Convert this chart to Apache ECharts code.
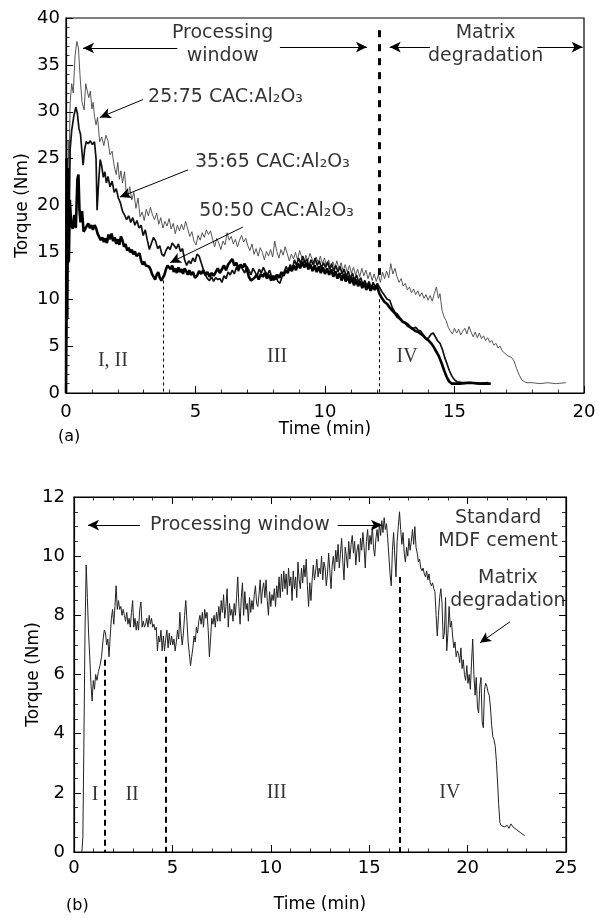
<!DOCTYPE html>
<html><head><meta charset="utf-8">
<script src="https://cdn.jsdelivr.net/npm/echarts@6/dist/echarts.min.js"></script>
<style>html,body{margin:0;padding:0;background:#fff}#c{width:599px;height:918px}</style>
</head><body><div id="c"></div>
<script>
// ---------- DATA (a): torque (Nm) vs time (min) ----------
const xTicksA = [0, 5, 10, 15, 20];
const yTicksA = [0, 5, 10, 15, 20, 25, 30, 35, 40];
const s25_75 = [[0,0],[0.05,12],[0.08,27],[0.12,24],[0.16,31],[0.22,33],[0.28,32],[0.35,36],[0.42,37.5],[0.48,36.8],[0.55,33.5],[0.62,31],[0.70,30.2],[0.76,33],[0.82,32.8],[0.88,31.5],[0.94,32.2],[1.00,30.3],[1.05,31],[1.10,29.5],[1.16,28.6],[1.22,29.4],[1.30,26.8],[1.38,27.3],[1.46,26.4],[1.54,27.5],[1.62,26.9],[1.70,25.4],[1.78,25.8],[1.86,24.2],[1.94,23.3],[2.00,24.6],[2.06,22.8],[2.12,23.7],[2.18,22.4],[2.26,23.6],[2.32,21.5],[2.40,21.0],[2.46,22.0],[2.54,20.6],[2.62,21.4],[2.70,19.7],[2.78,20.8],[2.86,18.8],[2.94,19.3],[3.02,18.4],[3.10,19.6],[3.18,18.9],[3.26,19.8],[3.34,19.0],[3.42,18.5],[3.50,19.2],[3.58,18.0],[3.66,18.7],[3.74,17.6],[3.82,18.3],[3.90,17.8],[3.98,18.6],[4.06,17.5],[4.14,18.1],[4.22,17.0],[4.30,17.9],[4.38,17.3],[4.46,18.0],[4.54,17.4],[4.62,18.3],[4.70,17.5],[4.78,16.7],[4.86,17.2],[4.94,16.2],[5.02,15.8],[5.10,16.8],[5.18,16.3],[5.26,17.1],[5.34,16.6],[5.42,17.4],[5.50,16.9],[5.58,17.3],[5.66,16.4],[5.74,15.6],[5.82,16.5],[5.90,16.0],[5.98,15.3],[6.06,16.2],[6.14,15.8],[6.22,17.1],[6.30,16.3],[6.38,16.7],[6.46,15.9],[6.54,16.4],[6.62,15.6],[6.70,16.3],[6.78,16.8],[6.86,16.1],[6.94,16.5],[7.02,15.7],[7.10,15.2],[7.18,15.9],[7.26,14.8],[7.34,15.4],[7.42,14.6],[7.50,15.5],[7.58,15.0],[7.66,14.2],[7.74,15.1],[7.82,14.6],[7.90,15.3],[7.98,14.5],[8.06,16.2],[8.14,15.1],[8.22,14.4],[8.30,15.3],[8.38,14.7],[8.46,15.6],[8.54,14.9],[8.62,14.1],[8.70,14.8],[8.78,14.3],[8.86,15.0],[8.94,14.2],[9.02,15.2],[9.10,14.5],[9.18,13.8],[9.26,14.7],[9.34,14.1],[9.42,14.9],[9.50,14.3],[9.58,13.6],[9.66,14.5],[9.74,13.9],[9.82,14.6],[9.90,13.8],[9.98,14.4],[10.06,13.5],[10.14,14.2],[10.22,13.3],[10.30,14.0],[10.38,13.4],[10.46,14.1],[10.54,13.2],[10.62,13.9],[10.70,13.0],[10.78,13.7],[10.86,12.9],[10.94,13.6],[11.02,12.8],[11.10,13.4],[11.18,12.6],[11.26,13.2],[11.34,12.4],[11.42,13.3],[11.50,12.5],[11.58,13.1],[11.66,12.2],[11.74,12.9],[11.82,12.0],[11.90,12.7],[11.98,11.9],[12.06,12.6],[12.14,11.8],[12.22,12.9],[12.30,12.2],[12.38,13.0],[12.46,12.3],[12.54,13.8],[12.62,12.7],[12.70,13.3],[12.78,12.4],[12.86,11.8],[12.94,12.2],[13.02,11.4],[13.10,11.7],[13.18,11.0],[13.26,11.3],[13.34,10.7],[13.42,11.1],[13.50,10.5],[13.58,10.9],[13.66,10.3],[13.74,10.7],[13.82,10.1],[13.90,10.5],[13.98,9.9],[14.06,10.4],[14.14,9.8],[14.22,10.6],[14.30,11.3],[14.38,10.1],[14.44,10.6],[14.52,8.8],[14.60,8.1],[14.68,7.7],[14.76,7.0],[14.84,6.6],[14.92,6.3],[15.00,6.9],[15.08,6.4],[15.16,6.8],[15.24,6.2],[15.32,6.6],[15.40,6.9],[15.48,6.3],[15.56,7.1],[15.64,6.5],[15.72,6.0],[15.80,6.5],[15.88,5.9],[15.96,6.4],[16.04,5.8],[16.12,6.1],[16.20,5.6],[16.28,5.9],[16.36,5.4],[16.44,5.6],[16.52,5.1],[16.60,5.3],[16.68,4.8],[16.76,5.0],[16.84,4.5],[16.92,4.3],[17.00,4.1],[17.10,3.9],[17.20,3.8],[17.30,3.4],[17.40,2.6],[17.50,1.9],[17.60,1.4],[17.70,1.2],[17.80,1.1],[18.00,1.1],[18.30,1.0],[18.60,1.1],[18.90,1.0],[19.30,1.1]];
const s35_65 = [[0,0],[0.04,10],[0.08,22],[0.12,18],[0.16,26],[0.22,28],[0.30,29.5],[0.38,30.5],[0.44,29.8],[0.50,28.2],[0.56,27.6],[0.62,25.6],[0.66,24.3],[0.72,26.0],[0.78,26.8],[0.86,26.6],[0.94,26.9],[1.02,26.5],[1.10,26.8],[1.16,25.0],[1.20,19.5],[1.26,22.5],[1.32,24.9],[1.38,24.2],[1.44,23.0],[1.50,23.6],[1.56,22.4],[1.62,23.1],[1.70,22.0],[1.78,22.6],[1.86,21.4],[1.94,21.8],[2.02,20.8],[2.10,20.3],[2.18,19.4],[2.26,19.0],[2.34,18.5],[2.42,18.9],[2.50,18.2],[2.58,18.7],[2.66,17.9],[2.74,18.4],[2.82,17.6],[2.90,17.9],[2.98,16.8],[3.06,17.4],[3.14,16.3],[3.22,15.3],[3.30,16.0],[3.38,16.6],[3.46,16.2],[3.54,15.4],[3.62,15.7],[3.70,14.8],[3.78,14.6],[3.86,15.2],[3.94,15.6],[4.02,15.3],[4.10,16.0],[4.18,15.7],[4.26,15.4],[4.34,15.9],[4.42,15.1],[4.50,15.4],[4.58,14.2],[4.66,13.6],[4.74,14.1],[4.82,13.8],[4.90,14.4],[4.98,14.0],[5.06,14.8],[5.14,14.6],[5.22,13.9],[5.30,13.2],[5.38,12.6],[5.46,12.2],[5.54,12.0],[5.62,12.4],[5.70,11.9],[5.78,12.3],[5.86,12.1],[5.94,12.2],[6.02,11.8],[6.10,12.5],[6.18,12.2],[6.26,12.9],[6.34,12.6],[6.42,13.1],[6.50,12.7],[6.58,13.4],[6.66,13.0],[6.74,13.6],[6.82,13.2],[6.90,12.8],[6.98,13.5],[7.06,13.1],[7.14,12.6],[7.22,13.3],[7.30,12.9],[7.38,12.5],[7.46,13.2],[7.54,12.8],[7.62,13.4],[7.70,12.9],[7.78,12.6],[7.86,13.1],[7.94,12.4],[8.02,12.0],[8.10,12.6],[8.18,11.9],[8.26,11.7],[8.34,12.4],[8.42,12.9],[8.50,13.5],[8.58,13.0],[8.66,13.7],[8.74,13.2],[8.82,14.2],[8.90,13.6],[8.98,14.4],[9.06,13.8],[9.14,14.6],[9.22,13.9],[9.30,14.3],[9.38,13.5],[9.46,14.2],[9.54,13.7],[9.62,14.4],[9.70,13.6],[9.78,14.1],[9.86,13.3],[9.94,13.9],[10.02,13.4],[10.10,14.0],[10.18,13.2],[10.26,13.8],[10.34,13.0],[10.42,13.6],[10.50,12.9],[10.58,13.5],[10.66,12.7],[10.74,13.2],[10.82,12.4],[10.90,13.0],[10.98,12.2],[11.06,12.8],[11.14,12.0],[11.22,12.6],[11.30,11.8],[11.38,12.3],[11.46,11.6],[11.54,12.0],[11.62,11.4],[11.70,11.9],[11.78,11.2],[11.86,11.8],[11.94,11.3],[12.02,11.7],[12.10,11.3],[12.20,10.8],[12.30,10.4],[12.40,10.0],[12.50,9.9],[12.60,9.1],[12.70,8.6],[12.80,8.4],[12.90,8.0],[13.00,7.6],[13.10,7.4],[13.20,7.1],[13.30,7.0],[13.40,6.9],[13.50,7.0],[13.60,6.7],[13.70,6.6],[13.80,6.2],[13.90,5.7],[14.00,5.9],[14.10,6.3],[14.18,6.4],[14.26,6.0],[14.34,5.6],[14.44,5.3],[14.54,4.6],[14.62,3.8],[14.70,3.2],[14.80,2.4],[14.90,1.8],[15.00,1.4],[15.10,1.2],[15.30,1.1],[15.60,1.1],[15.90,1.0],[16.30,1.1]];
const s50_50 = [[0,0],[0.02,25],[0.05,8],[0.08,24],[0.11,14],[0.15,20.6],[0.20,18],[0.26,17.5],[0.32,19.0],[0.38,17.6],[0.44,22.8],[0.48,23.3],[0.52,19.5],[0.56,18.2],[0.62,19.4],[0.68,17.2],[0.74,17.0],[0.80,17.8],[0.86,18.1],[0.92,17.6],[0.98,17.9],[1.04,17.4],[1.10,17.9],[1.16,17.6],[1.22,17.0],[1.28,16.8],[1.34,16.3],[1.40,16.6],[1.46,16.1],[1.52,16.5],[1.58,16.0],[1.64,16.9],[1.70,16.4],[1.76,17.0],[1.82,16.2],[1.88,16.6],[1.94,15.9],[2.00,16.4],[2.06,15.8],[2.12,16.7],[2.18,16.3],[2.24,15.6],[2.30,15.9],[2.36,15.2],[2.42,15.5],[2.48,15.0],[2.54,15.3],[2.60,14.8],[2.66,15.1],[2.72,14.6],[2.78,14.4],[2.84,14.9],[2.90,14.1],[2.96,13.7],[3.02,14.0],[3.08,13.6],[3.14,13.4],[3.20,13.5],[3.26,13.2],[3.32,12.7],[3.38,12.9],[3.44,12.1],[3.50,12.6],[3.56,12.9],[3.62,12.3],[3.68,12.0],[3.74,11.8],[3.80,12.6],[3.86,13.2],[3.92,13.6],[3.98,13.8],[4.04,13.2],[4.10,13.6],[4.16,12.9],[4.22,13.3],[4.28,12.8],[4.34,13.4],[4.40,12.9],[4.46,13.2],[4.52,12.7],[4.58,13.3],[4.64,13.0],[4.70,12.6],[4.76,13.1],[4.82,12.6],[4.90,12.9],[4.98,12.3],[5.06,12.5],[5.14,13.0],[5.22,12.7],[5.30,13.1],[5.38,12.6],[5.46,12.9],[5.54,12.4],[5.62,12.8],[5.70,12.5],[5.78,12.9],[5.86,13.3],[5.94,12.8],[6.02,13.2],[6.10,13.6],[6.18,13.1],[6.26,13.7],[6.34,14.0],[6.42,14.3],[6.50,13.6],[6.58,13.9],[6.66,13.2],[6.74,13.7],[6.82,13.4],[6.90,13.8],[6.98,13.2],[7.06,12.4],[7.14,12.0],[7.20,11.8],[7.28,12.3],[7.36,12.6],[7.44,12.1],[7.52,12.7],[7.60,12.4],[7.68,12.8],[7.76,12.2],[7.84,12.6],[7.92,12.0],[8.00,12.5],[8.08,12.1],[8.16,12.6],[8.24,12.3],[8.32,12.9],[8.40,12.5],[8.48,13.1],[8.56,12.8],[8.64,13.4],[8.72,13.0],[8.80,13.6],[8.88,13.1],[8.96,13.8],[9.04,13.3],[9.12,14.0],[9.20,13.4],[9.28,13.9],[9.36,13.2],[9.44,13.7],[9.52,13.0],[9.60,13.6],[9.68,12.9],[9.76,13.5],[9.84,12.8],[9.92,13.4],[10.00,12.7],[10.08,13.3],[10.16,12.6],[10.24,13.2],[10.32,12.4],[10.40,13.0],[10.48,12.2],[10.56,12.8],[10.64,12.0],[10.72,12.7],[10.80,11.9],[10.88,12.5],[10.96,11.7],[11.04,12.3],[11.12,11.5],[11.20,12.1],[11.28,11.4],[11.36,11.9],[11.44,11.2],[11.52,11.7],[11.60,11.0],[11.68,11.6],[11.76,10.9],[11.84,11.4],[11.92,11.0],[12.00,11.5],[12.10,10.6],[12.20,10.1],[12.30,9.7],[12.40,9.5],[12.50,9.1],[12.60,8.8],[12.70,8.5],[12.80,8.1],[12.90,7.9],[13.00,7.6],[13.10,7.5],[13.20,7.3],[13.30,7.0],[13.40,6.8],[13.50,6.6],[13.60,6.5],[13.70,6.3],[13.80,6.1],[13.90,5.8],[14.00,5.6],[14.10,5.3],[14.20,4.9],[14.30,4.4],[14.40,3.9],[14.50,3.2],[14.60,2.4],[14.70,1.7],[14.80,1.2],[14.90,1.0],[15.20,1.0],[15.60,1.1],[16.00,1.0],[16.40,1.0]];

// ---------- DATA (b): standard MDF cement ----------
const xTicksB = [0, 5, 10, 15, 20, 25];
const yTicksB = [0, 2, 4, 6, 8, 10, 12];
const sMDF = [[0.40,0],[0.45,0.5],[0.50,3.5],[0.56,7.5],[0.62,9.7],[0.68,8.6],[0.74,7.4],[0.80,6.6],[0.86,5.7],[0.92,5.1],[0.98,5.8],[1.04,5.5],[1.10,6.0],[1.17,5.8],[1.24,6.1],[1.32,6.3],[1.40,6.6],[1.48,7.2],[1.54,7.5],[1.60,7.4],[1.66,7.0],[1.72,7.2],[1.78,6.6],[1.84,7.3],[1.90,7.9],[1.96,8.2],[2.02,7.7],[2.08,8.3],[2.14,9.0],[2.20,8.2],[2.26,8.5],[2.32,8.2],[2.38,8.3],[2.44,8.0],[2.50,8.2],[2.56,8.0],[2.62,7.8],[2.68,8.1],[2.74,7.7],[2.80,7.9],[2.86,7.6],[2.92,8.1],[2.98,8.5],[3.04,7.6],[3.10,7.9],[3.16,7.5],[3.22,7.8],[3.28,7.5],[3.34,8.2],[3.40,8.45],[3.46,7.6],[3.52,7.8],[3.58,7.6],[3.64,7.7],[3.70,7.9],[3.76,7.6],[3.82,8.0],[3.88,7.7],[3.94,7.9],[4.00,7.6],[4.06,7.7],[4.12,7.5],[4.18,7.6],[4.24,6.8],[4.30,7.3],[4.36,7.1],[4.42,7.5],[4.48,6.8],[4.54,7.3],[4.60,6.8],[4.66,7.2],[4.72,7.5],[4.78,6.9],[4.84,7.4],[4.90,7.0],[4.96,7.3],[5.02,7.0],[5.08,7.2],[5.14,6.8],[5.20,7.1],[5.26,7.5],[5.32,7.2],[5.38,8.1],[5.44,7.4],[5.50,7.0],[5.56,7.4],[5.62,8.0],[5.68,8.5],[5.74,7.8],[5.80,7.1],[5.86,6.7],[5.92,6.3],[5.98,6.6],[6.04,6.9],[6.10,7.3],[6.16,7.1],[6.22,7.6],[6.28,7.4],[6.34,7.8],[6.40,8.0],[6.46,7.7],[6.52,8.1],[6.58,7.6],[6.64,8.2],[6.70,7.9],[6.76,8.1],[6.82,7.5],[6.88,6.6],[6.94,7.2],[7.00,7.9],[7.06,7.7],[7.12,8.0],[7.18,7.6],[7.24,8.1],[7.30,7.8],[7.36,8.3],[7.42,7.8],[7.48,8.5],[7.54,8.1],[7.60,8.7],[7.66,7.9],[7.72,8.3],[7.78,8.9],[7.84,7.6],[7.90,8.4],[7.96,8.0],[8.02,8.2],[8.08,7.8],[8.14,8.4],[8.20,8.0],[8.26,8.6],[8.32,9.3],[8.38,8.3],[8.44,7.7],[8.50,8.6],[8.56,9.1],[8.62,8.0],[8.68,8.8],[8.74,8.2],[8.80,8.4],[8.86,7.8],[8.92,8.6],[8.98,8.1],[9.04,8.5],[9.10,8.2],[9.16,8.7],[9.22,9.0],[9.28,8.4],[9.34,8.3],[9.40,8.7],[9.46,9.2],[9.52,8.4],[9.58,8.9],[9.64,9.1],[9.70,8.6],[9.76,9.2],[9.82,8.5],[9.88,8.0],[9.94,8.8],[10.00,8.3],[10.06,8.7],[10.12,8.5],[10.18,8.9],[10.24,8.3],[10.30,9.0],[10.36,8.6],[10.42,9.3],[10.48,8.6],[10.54,9.4],[10.60,8.8],[10.66,9.5],[10.72,8.9],[10.78,9.4],[10.84,8.7],[10.90,9.6],[10.96,9.0],[11.02,9.3],[11.08,8.5],[11.14,9.5],[11.20,8.9],[11.26,9.3],[11.32,8.6],[11.38,9.8],[11.44,9.2],[11.50,8.9],[11.56,9.6],[11.62,9.1],[11.68,9.7],[11.74,9.3],[11.80,9.9],[11.86,9.0],[11.92,8.3],[11.98,9.1],[12.04,8.5],[12.10,9.2],[12.16,9.7],[12.22,9.2],[12.28,9.5],[12.34,9.9],[12.40,9.3],[12.46,9.6],[12.52,9.4],[12.58,10.0],[12.64,9.2],[12.70,9.8],[12.76,9.6],[12.82,9.0],[12.88,9.4],[12.94,10.1],[13.00,9.5],[13.06,8.9],[13.12,9.7],[13.18,10.0],[13.24,9.5],[13.30,10.2],[13.36,9.8],[13.42,10.4],[13.48,9.6],[13.54,10.1],[13.60,10.6],[13.66,9.8],[13.72,9.2],[13.78,10.3],[13.84,10.0],[13.90,9.6],[13.96,10.5],[14.02,9.9],[14.08,10.4],[14.14,10.7],[14.20,10.1],[14.26,10.5],[14.32,9.7],[14.38,10.2],[14.44,10.4],[14.50,9.8],[14.56,10.6],[14.62,10.2],[14.68,10.8],[14.74,10.3],[14.80,9.6],[14.86,10.5],[14.92,10.9],[14.98,10.2],[15.04,10.7],[15.10,10.4],[15.16,11.0],[15.22,10.3],[15.28,10.0],[15.34,10.6],[15.40,10.9],[15.46,10.5],[15.52,11.1],[15.58,10.7],[15.64,11.2],[15.70,10.8],[15.76,11.3],[15.82,10.9],[15.88,11.1],[15.94,10.6],[16.00,10.0],[16.06,9.4],[16.12,9.0],[16.18,10.2],[16.24,10.8],[16.30,10.0],[16.36,9.3],[16.42,10.5],[16.48,11.0],[16.54,11.5],[16.60,10.9],[16.66,10.4],[16.72,10.8],[16.78,10.1],[16.84,9.8],[16.90,10.3],[16.96,10.0],[17.02,10.6],[17.08,10.2],[17.14,10.5],[17.20,10.9],[17.26,10.4],[17.32,11.0],[17.38,10.3],[17.44,10.1],[17.50,9.8],[17.56,9.9],[17.62,9.6],[17.68,9.5],[17.74,9.6],[17.80,9.4],[17.86,9.3],[17.92,9.5],[17.98,9.2],[18.04,9.4],[18.10,9.1],[18.16,9.0],[18.22,9.1],[18.28,8.9],[18.34,8.8],[18.40,8.0],[18.46,7.3],[18.52,8.0],[18.58,8.6],[18.64,8.9],[18.70,8.4],[18.76,7.2],[18.82,7.4],[18.88,8.6],[18.94,6.8],[19.00,7.4],[19.06,8.3],[19.12,7.6],[19.18,7.8],[19.24,7.3],[19.30,6.9],[19.36,7.1],[19.42,6.6],[19.48,6.8],[19.54,6.7],[19.60,6.4],[19.66,6.9],[19.72,6.2],[19.78,6.5],[19.84,6.0],[19.90,5.8],[19.96,6.3],[20.02,5.7],[20.08,6.0],[20.14,5.5],[20.20,6.4],[20.26,7.2],[20.32,6.0],[20.38,5.3],[20.44,5.9],[20.50,4.9],[20.56,4.7],[20.62,5.6],[20.68,5.9],[20.74,4.4],[20.80,4.2],[20.86,5.5],[20.92,5.7],[20.98,5.6],[21.04,5.4],[21.10,5.3],[21.16,4.9],[21.22,4.3],[21.28,3.9],[21.34,3.8],[21.40,3.6],[21.46,3.1],[21.52,2.4],[21.58,1.6],[21.64,1.0],[21.70,0.9],[21.78,0.95],[21.86,0.85],[21.94,0.8],[22.02,0.9],[22.10,0.8],[22.20,0.95],[22.30,0.85],[22.40,0.8],[22.50,0.75],[22.60,0.7],[22.70,0.65],[22.80,0.6],[22.90,0.55]];

// ---------- annotations (data coordinates) ----------
const phaseA = [3.75, 12.1];   // phase boundaries, panel a
const phaseB = [1.55, 4.67, 16.55]; // phase boundaries, panel b

const SANS = 'DejaVu Sans';
const SERIF = 'Liberation Serif';
const chart = echarts.init(document.getElementById('c'), null, {renderer: 'canvas'});

function axisCommon(extra) {
  return Object.assign({
    type: 'value',
    nameMoveOverlap: false,
    axisLine: {show: true, onZero: false, lineStyle: {color: '#000', width: 1.2}},
    axisTick: {show: true, inside: true, length: 7, lineStyle: {color: '#000', width: 1}},
    minorTick: {show: true, splitNumber: 5, length: 3.5, lineStyle: {color: '#000', width: 0.8}},
    splitLine: {show: false},
    axisLabel: {color: '#000', fontFamily: SANS, fontSize: 18},
    nameTextStyle: {color: '#000', fontFamily: SANS, fontSize: 17}
  }, extra);
}
function seg(p1, p2, s1, s2, style) {
  const a = {coord: p1, symbol: s1 || 'none', symbolSize: [8, 11]};
  const b = {coord: p2, symbol: s2 || 'none', symbolSize: [8, 11]};
  if (style) a.lineStyle = style;
  return [a, b];
}
function txt(t, T, text, opts) {
  return {value: [t, T], label: Object.assign({show: true, formatter: text, position: 'inside',
    color: '#000', textBorderWidth: 0, textShadowBlur: 0,
    fontFamily: SANS, fontSize: 19, lineHeight: 23, align: 'center', verticalAlign: 'middle'}, opts || {})};
}
const thickDash = {type: [7, 7], width: 3, color: '#000'};
const thinDash = {type: [3, 3], width: 1, color: '#000'};
const thickDashB = {type: [6, 4], width: 2, color: '#000'};

const option = {
  animation: false,
  backgroundColor: '#fff',
  grid: [
    {left: 66, top: 18, width: 518, height: 375, show: true, borderColor: '#000', borderWidth: 1.2, backgroundColor: 'transparent'},
    {left: 74, top: 497, width: 492, height: 355, show: true, borderColor: '#000', borderWidth: 1.2, backgroundColor: 'transparent'}
  ],
  xAxis: [
    axisCommon({gridIndex: 0, min: xTicksA[0], max: xTicksA[xTicksA.length - 1], interval: 5, name: 'Time (min)', nameLocation: 'middle', nameGap: 28,
      axisLabel: {color: '#000', fontFamily: SANS, fontSize: 18, margin: 10}}),
    axisCommon({gridIndex: 1, min: xTicksB[0], max: xTicksB[xTicksB.length - 1], interval: 5, name: 'Time (min)', nameLocation: 'middle', nameGap: 44,
      axisLabel: {color: '#000', fontFamily: SANS, fontSize: 18, margin: 7}}),
    axisCommon({gridIndex: 1, position: 'top', min: 0, max: 25, interval: 5, axisLabel: {show: false}})
  ],
  yAxis: [
    axisCommon({gridIndex: 0, min: yTicksA[0], max: yTicksA[yTicksA.length - 1], interval: 5, name: 'Torque (Nm)', nameLocation: 'middle', nameGap: 35,
      axisLabel: {color: '#000', fontFamily: SANS, fontSize: 18, margin: 6}}),
    axisCommon({gridIndex: 1, min: yTicksB[0], max: yTicksB[yTicksB.length - 1], interval: 2, name: 'Torque (Nm)', nameLocation: 'middle', nameGap: 32,
      minorTick: {show: true, splitNumber: 4, length: 4, lineStyle: {color: '#000', width: 0.8}},
      axisLabel: {color: '#000', fontFamily: SANS, fontSize: 18, margin: 9}}),
    axisCommon({gridIndex: 1, position: 'right', min: 0, max: 12, interval: 2, axisLabel: {show: false},
      minorTick: {show: true, splitNumber: 4, length: 4, lineStyle: {color: '#000', width: 0.8}}})
  ],
  graphic: [
    {type: 'text', left: 58, top: 429, style: {text: '(a)', font: '16px "DejaVu Sans"', fill: '#000'}},
    {type: 'text', left: 66, top: 898, style: {text: '(b)', font: '16px "DejaVu Sans"', fill: '#000'}}
  ],
  series: [
    {name: '25:75', type: 'line', xAxisIndex: 0, yAxisIndex: 0, data: s25_75, showSymbol: false, symbol: 'none',
      lineStyle: {color: '#444', width: 0.9}, z: 3},
    {name: '35:65', type: 'line', xAxisIndex: 0, yAxisIndex: 0, data: s35_65, showSymbol: false, symbol: 'none',
      lineStyle: {color: '#111', width: 1.7}, z: 4},
    {name: '50:50', type: 'line', xAxisIndex: 0, yAxisIndex: 0, data: s50_50, showSymbol: false, symbol: 'none',
      lineStyle: {color: '#000', width: 2.6}, z: 5},
    {name: 'annotA', type: 'scatter', xAxisIndex: 0, yAxisIndex: 0, symbolSize: 0, silent: true, z: 6,
      data: [
        txt(6.05, 37.2, 'Processing\nwindow'),
        txt(16.2, 37.2, 'Matrix\ndegradation'),
        txt(3.17, 31.6, '25:75 CAC:Al₂O₃', {position: 'right', distance: 0, align: 'left'}),
        txt(4.98, 24.6, '35:65 CAC:Al₂O₃', {position: 'right', distance: 0, align: 'left'}),
        txt(5.14, 19.4, '50:50 CAC:Al₂O₃', {position: 'right', distance: 0, align: 'left'}),
        txt(1.81, 3.4, 'I, II', {fontFamily: SERIF, fontSize: 20}),
        txt(8.15, 3.9, 'III', {fontFamily: SERIF, fontSize: 20}),
        txt(13.17, 3.9, 'IV', {fontFamily: SERIF, fontSize: 20})
      ],
      markLine: {silent: true, symbol: ['none', 'none'], label: {show: false}, lineStyle: {color: '#000', width: 1, type: 'solid'},
        data: [
          seg([4.3, 36.8], [0.66, 36.8], 'none', 'arrow'),
          seg([8.26, 36.9], [11.62, 36.9], 'none', 'arrow'),
          seg([14.05, 36.9], [12.5, 36.9], 'none', 'arrow'),
          seg([18.2, 36.9], [19.95, 36.9], 'none', 'arrow'),
          seg([2.97, 31.3], [1.31, 29.4], 'none', 'arrow'),
          seg([4.71, 23.8], [2.08, 20.9], 'none', 'arrow'),
          seg([6.83, 17.7], [4.02, 13.9], 'none', 'arrow'),
          seg([phaseA[1], 38.7], [phaseA[1], 12.6], 'none', 'none', thickDash),
          seg([phaseA[1], 10.0], [phaseA[1], 0], 'none', 'none', thinDash),
          seg([phaseA[0], 12.0], [phaseA[0], 0], 'none', 'none', thinDash)
        ]}
    },
    {name: 'MDF', type: 'line', xAxisIndex: 1, yAxisIndex: 1, data: sMDF, showSymbol: false, symbol: 'none',
      lineStyle: {color: '#222', width: 1}, z: 3},
    {name: 'annotB', type: 'scatter', xAxisIndex: 1, yAxisIndex: 1, symbolSize: 0, silent: true, z: 6,
      data: [
        txt(8.43, 11.05, 'Processing window'),
        txt(21.55, 10.9, 'Standard\nMDF cement'),
        txt(22.05, 8.87, 'Matrix\ndegradation'),
        txt(1.07, 1.95, 'I', {fontFamily: SERIF, fontSize: 20}),
        txt(2.95, 1.95, 'II', {fontFamily: SERIF, fontSize: 20}),
        txt(10.3, 2.0, 'III', {fontFamily: SERIF, fontSize: 20}),
        txt(19.1, 2.0, 'IV', {fontFamily: SERIF, fontSize: 20})
      ],
      markLine: {silent: true, symbol: ['none', 'none'], label: {show: false}, lineStyle: {color: '#000', width: 1, type: 'solid'},
        data: [
          seg([3.35, 11.05], [0.71, 11.05], 'none', 'arrow'),
          seg([13.4, 11.05], [15.65, 11.05], 'none', 'arrow'),
          seg([22.15, 7.78], [20.63, 7.07], 'none', 'arrow'),
          seg([phaseB[0], 6.5], [phaseB[0], 0], 'none', 'none', thickDashB),
          seg([phaseB[1], 6.6], [phaseB[1], 0], 'none', 'none', thickDashB),
          seg([phaseB[2], 9.3], [phaseB[2], 0], 'none', 'none', thickDashB)
        ]}
    }
  ]
};
chart.setOption(option);
</script>
</body></html>
